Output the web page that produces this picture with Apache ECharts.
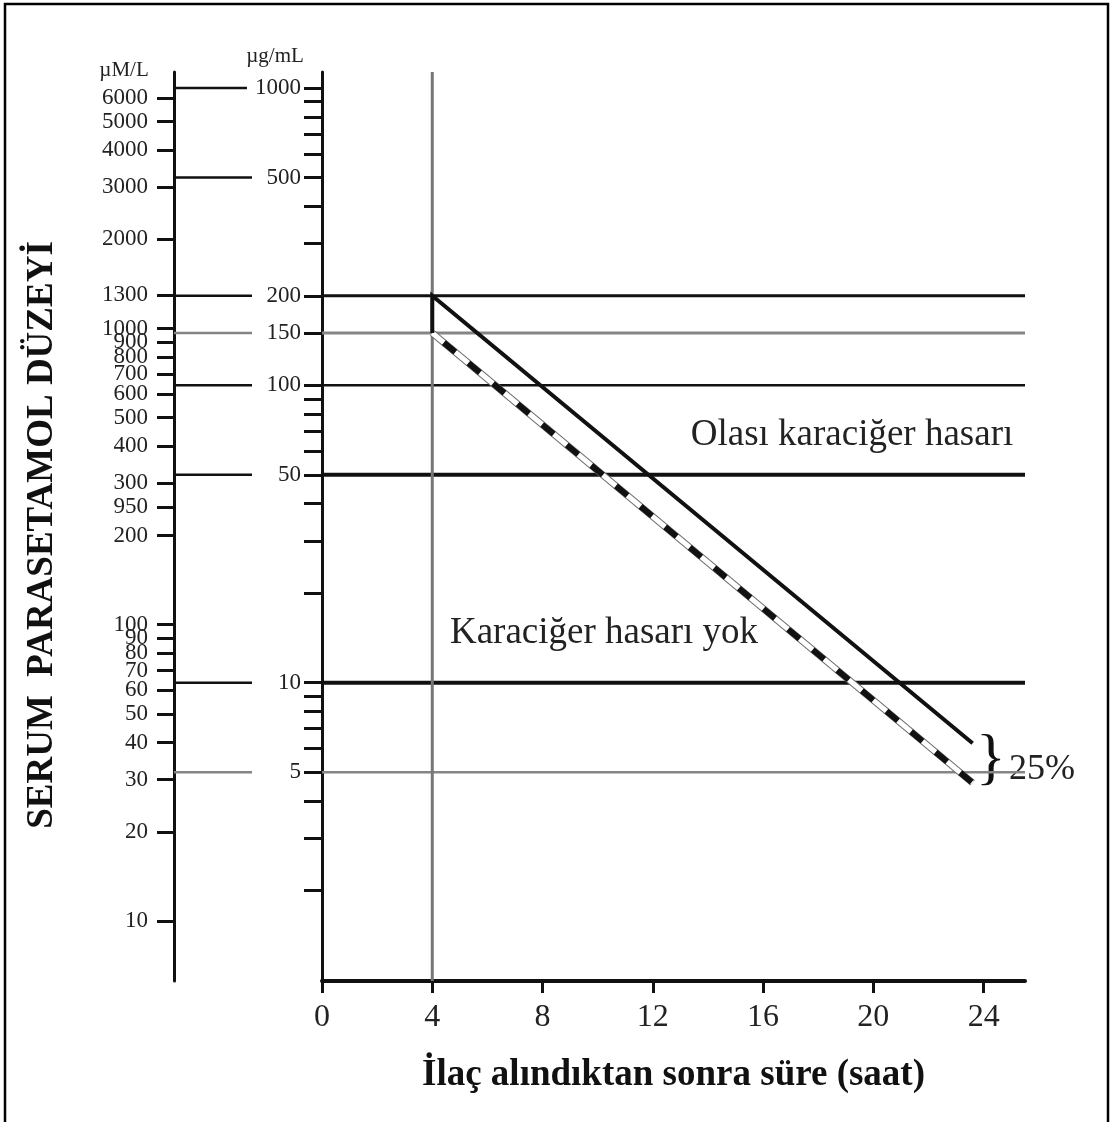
<!DOCTYPE html>
<html>
<head>
<meta charset="utf-8">
<script src="https://cdn.jsdelivr.net/npm/echarts@6/dist/echarts.min.js"></script>
<style>
html, body { margin: 0; padding: 0; background: #fff; }
#main { width: 1113px; height: 1122px; }
</style>
</head>
<body>
<div id="main"></div>
<script>
// serum level in ug/mL, hours after ingestion
const hours = [0, 4, 8, 12, 16, 20, 24];
const ugTicks = [1000, 900, 800, 700, 600, 500, 400, 300, 200, 150,
  100, 90, 80, 70, 60, 50, 40, 30, 20, 10, 9, 8, 7, 6, 5, 4, 3, 2];
const ugLabels = [1000, 500, 200, 150, 100, 50, 10, 5];
// micromol/L scale (labels copied as printed, incl. "950")
const umTicks = [6000, 5000, 4000, 3000, 2000, 1300, 1000, 900, 800, 700, 600,
  500, 400, 300, 250, 200, 100, 90, 80, 70, 60, 50, 40, 30, 20, 10];
const umLabels = ['6000', '5000', '4000', '3000', '2000', '1300', '1000', '900', '800', '700', '600',
  '500', '400', '300', '950', '200', '100', '90', '80', '70', '60', '50', '40', '30', '20', '10'];
const refLevels = [200, 150, 100, 50, 10, 5];
const treatLine = [[4, 150], [4, 200], [23.6, 6.25]];
const lowerLine = [[4, 150], [23.6, 4.6]];

// axis ranges
const X_MAX = 25.5;
const UG_MIN = 0.992, UG_MAX = 1132;
const UM_MIN = 6.27, UM_MAX = 7345;

const lg = Math.log10;
const SERIF = "'Liberation Serif', 'Times New Roman', serif";
const BLACK = '#111';
const GREY = '#858585';

// line styles for the reference levels
const refStyle = {
  200: { color: BLACK, width: 3 },
  150: { color: GREY, width: 3 },
  100: { color: BLACK, width: 2.5 },
  50: { color: BLACK, width: 4 },
  10: { color: BLACK, width: 4 },
  5: { color: GREY, width: 2.5 }
};

function line(name, pts, style, z, xi, yi) {
  return {
    name: name,
    type: 'line',
    xAxisIndex: xi || 0,
    yAxisIndex: yi || 0,
    data: pts.map(p => [p[0], lg(p[1])]),
    symbol: 'none',
    silent: true,
    z: z,
    lineStyle: style
  };
}

const series = [];

// horizontal level lines across the plot
refLevels.forEach(v => {
  const s = refStyle[v];
  series.push(line('lvl' + v, [[0, v], [X_MAX, v]], { color: s.color, width: s.width }, 2));
});

// 4 hour line
series.push(line('h4', [[4, UG_MIN], [4, UG_MAX]], { color: '#777', width: 3 }, 3));

// connectors between the two concentration scales
ugLabels.forEach(v => {
  const s = refStyle[v] || { color: BLACK };
  const len = Math.min(78, 148 - 21 - String(v).length * 11.5 - 8);
  series.push(line('c' + v, [[0, v], [len, v]], { color: s.color, width: 2.5 }, 2, 1, 2));
});

// lower (25%) line: white band with grey edge and black dashes
series.push(line('lowEdge', lowerLine, { color: '#6a6a6a', width: 7 }, 5));
series.push(line('lowFill', lowerLine, { color: '#fff', width: 5 }, 6));
series.push(line('lowDash', lowerLine, { color: BLACK, width: 6, type: [15, 17], dashOffset: 17 }, 7));

// treatment line
series.push(line('treat', treatLine, { color: BLACK, width: 4, join: 'miter' }, 8));

const option = {
  animation: false,
  backgroundColor: '#fff',
  grid: [
    { left: 322, right: 88, top: 72, bottom: 141 },
    { left: 174, width: 148, top: 72, bottom: 141 }
  ],
  xAxis: [
    {
      type: 'value', gridIndex: 0, min: 0, max: X_MAX, interval: 4,
      axisLine: { show: true, onZero: false, lineStyle: { color: BLACK, width: 4 } },
      axisTick: { show: true, length: 12, lineStyle: { color: BLACK, width: 3 } },
      axisLabel: {
        showMaxLabel: false, margin: 21,
        fontFamily: SERIF, fontSize: 32, color: '#222',
        formatter: v => hours.indexOf(v) >= 0 ? String(v) : ''
      },
      splitLine: { show: false },
      name: 'İlaç alındıktan sonra süre (saat)',
      nameLocation: 'middle', nameGap: 76,
      nameTextStyle: { fontFamily: SERIF, fontSize: 37, fontWeight: 'bold', color: '#111' }
    },
    { type: 'value', gridIndex: 1, min: 0, max: 148, show: false }
  ],
  yAxis: [
    {
      type: 'value', gridIndex: 0, position: 'left',
      min: lg(UG_MIN), max: lg(UG_MAX),
      axisLine: { show: true, onZero: false, lineStyle: { color: BLACK, width: 3 } },
      axisTick: {
        show: true, length: 18, customValues: ugTicks.map(lg),
        lineStyle: { color: BLACK, width: 3 }
      },
      axisLabel: {
        customValues: ugLabels.map(lg), margin: 21,
        fontFamily: SERIF, fontSize: 23, color: '#222',
        formatter: v => String(Math.round(Math.pow(10, v)))
      },
      splitLine: { show: false }
    },
    {
      type: 'value', gridIndex: 0, position: 'left', offset: 148,
      min: lg(UM_MIN), max: lg(UM_MAX),
      axisLine: { show: true, onZero: false, lineStyle: { color: BLACK, width: 3 } },
      axisTick: {
        show: true, length: 17, customValues: umTicks.map(lg),
        lineStyle: { color: BLACK, width: 3 }
      },
      axisLabel: {
        customValues: umTicks.map(lg), margin: 26,
        fontFamily: SERIF, fontSize: 23, color: '#222',
        formatter: v => {
          let best = 0;
          umTicks.forEach((t, i) => {
            if (Math.abs(lg(t) - v) < Math.abs(lg(umTicks[best]) - v)) best = i;
          });
          return umLabels[best];
        }
      },
      splitLine: { show: false }
    },
    { type: 'value', gridIndex: 1, min: lg(UG_MIN), max: lg(UG_MAX), show: false }
  ],
  graphic: [
    {
      type: 'rect', silent: true, z: 0,
      shape: { x: 5, y: 4, width: 1103, height: 1140 },
      style: { fill: 'none', stroke: '#000', lineWidth: 2.5 }
    },
    {
      type: 'text', x: 124, y: 70,
      style: { text: 'µM/L', fontFamily: SERIF, fontSize: 21, fill: '#222', align: 'center', verticalAlign: 'middle' }
    },
    {
      type: 'text', x: 275, y: 56,
      style: { text: 'µg/mL', fontFamily: SERIF, fontSize: 21, fill: '#222', align: 'center', verticalAlign: 'middle' }
    },
    {
      type: 'text', x: 42, y: 535, rotation: Math.PI / 2,
      style: {
        text: 'SERUM  PARASETAMOL DÜZEYİ', fontFamily: SERIF, fontSize: 37, fontWeight: 'bold',
        fill: '#111', align: 'center', verticalAlign: 'middle'
      }
    },
    {
      type: 'text', x: 852, y: 435,
      style: { text: 'Olası karaciğer hasarı', fontFamily: SERIF, fontSize: 37, fill: '#222', align: 'center', verticalAlign: 'middle' }
    },
    {
      type: 'text', x: 604, y: 633,
      style: { text: 'Karaciğer hasarı yok', fontFamily: SERIF, fontSize: 37, fill: '#222', align: 'center', verticalAlign: 'middle' }
    },
    {
      type: 'text', x: 991, y: 761,
      style: { text: '}', fontFamily: SERIF, fontSize: 62, fill: '#111', align: 'center', verticalAlign: 'middle' }
    },
    {
      type: 'text', x: 1009, y: 770,
      style: { text: '25%', fontFamily: SERIF, fontSize: 36, fill: '#222', align: 'left', verticalAlign: 'middle' }
    }
  ],
  series: series
};

const chart = echarts.init(document.getElementById('main'), null, { renderer: 'canvas' });
chart.setOption(option);
</script>
</body>
</html>
